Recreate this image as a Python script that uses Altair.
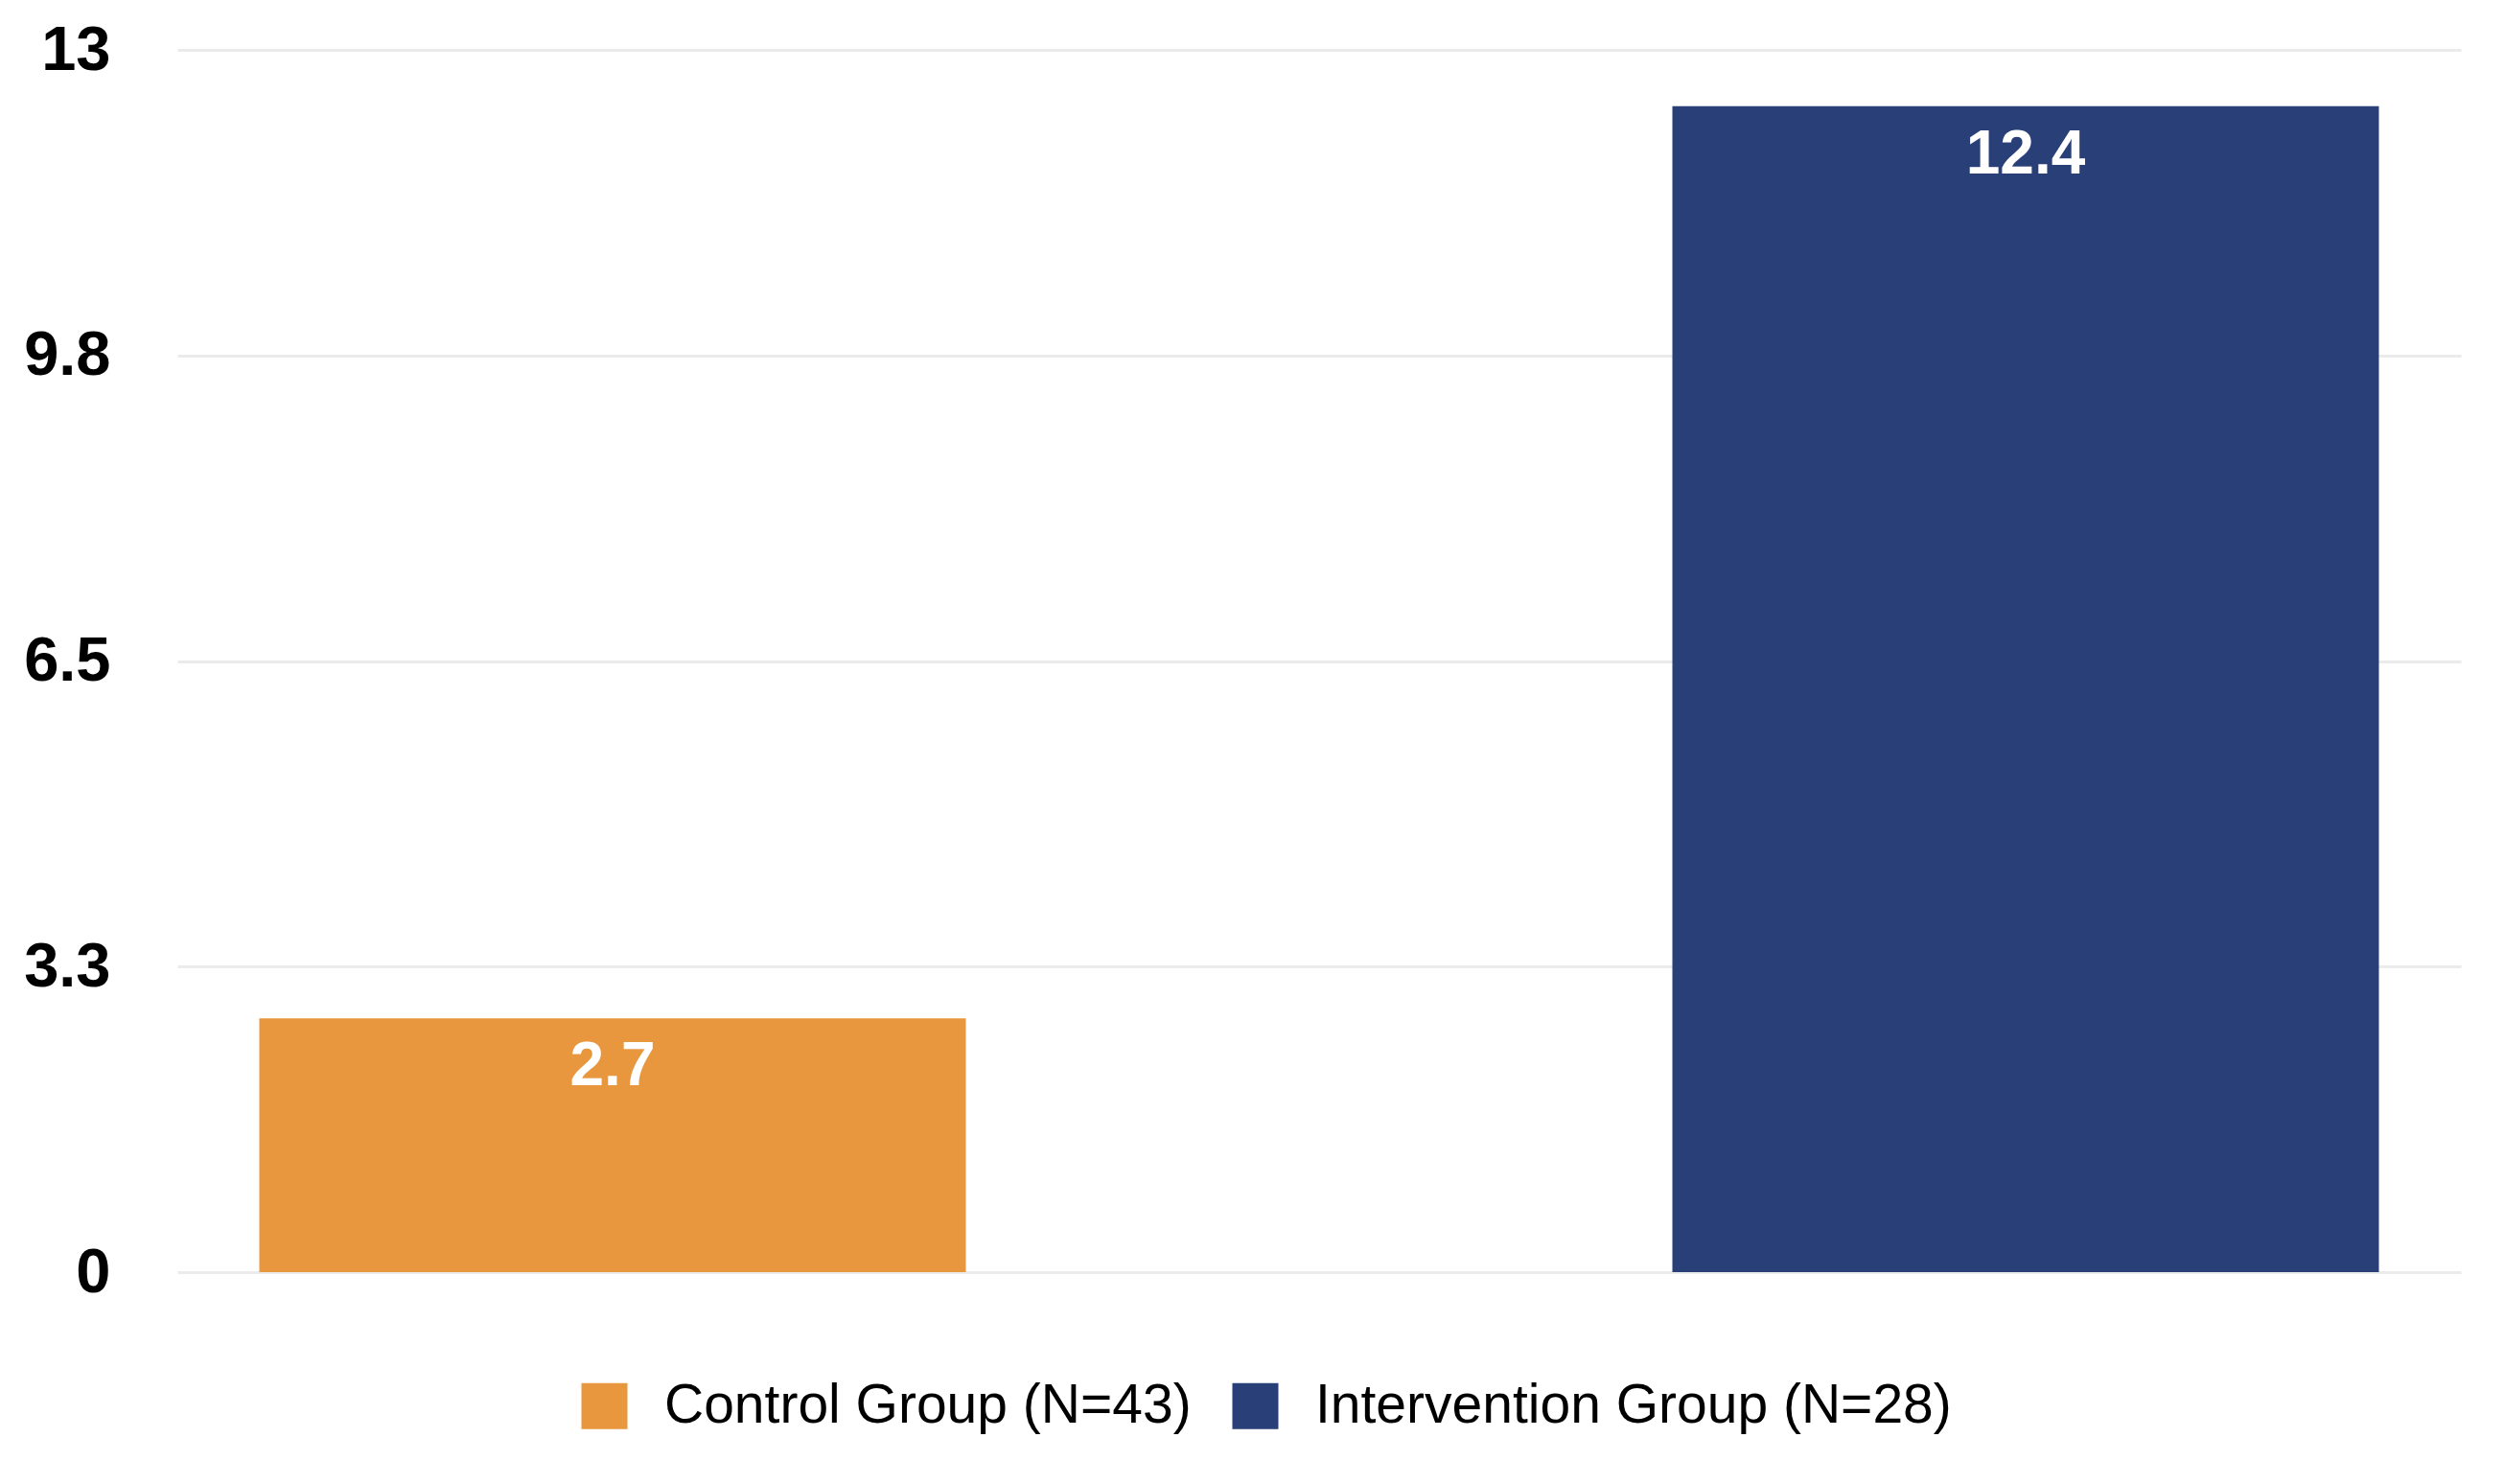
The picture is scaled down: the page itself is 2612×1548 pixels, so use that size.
import altair as alt
import pandas as pd

groups = ["Control Group (N=43)", "Intervention Group (N=28)"]
values = [2.7, 12.4]
value_labels = ["2.7", "12.4"]
colors = ["#E9973E", "#283F78"]
tick_values = [0, 3.25, 6.5, 9.75, 13]
tick_labels = ["0", "3.3", "6.5", "9.8", "13"]

df = pd.DataFrame({"group": groups, "value": values, "label": value_labels})

expr = "''"
for v, l in zip(reversed(tick_values), reversed(tick_labels)):
    expr = f"datum.value == {v} ? '{l}' : ({expr})"

x_enc = alt.X("group:N", sort=groups, axis=None,
              scale=alt.Scale(paddingInner=0.5, paddingOuter=0.058))

bars = alt.Chart(df).mark_bar().encode(
    x=x_enc,
    y=alt.Y("value:Q",
            scale=alt.Scale(domain=[0, 13], nice=False, zero=True),
            axis=alt.Axis(values=tick_values, labelExpr=expr, title=None,
                          domain=False, ticks=False, tickSize=0,
                          labelPadding=70, labelFontSize=65,
                          labelFontWeight="bold", labelColor="#000000",
                          labelFont="Liberation Sans",
                          grid=True, gridColor="#EBEBEB", gridWidth=3)),
    color=alt.Color("group:N", sort=groups,
                    scale=alt.Scale(domain=groups, range=colors),
                    legend=alt.Legend(title=None, orient="none",
                                      legendX=417, legendY=1386,
                                      direction="horizontal",
                                      symbolType="square", symbolSize=2304,
                                      symbolStrokeWidth=0,
                                      labelFontSize=57, labelColor="#000000",
                                      labelFont="Liberation Sans",
                                      labelLimit=0,
                                      labelOffset=34, columnPadding=38,
                                      padding=0)),
)

text = alt.Chart(df).mark_text(
    baseline="middle", align="center", dy=51, color="white",
    fontSize=64, fontWeight="bold", font="Liberation Sans"
).encode(
    x=alt.X("group:N", sort=groups),
    y=alt.Y("value:Q"),
    text="label:N",
)

chart = alt.layer(bars, text).properties(
    width=2382, height=1275,
    background="white",
    autosize=alt.AutoSizeParams(type="none"),
    padding={"left": 177, "top": 44, "right": 30, "bottom": 200},
).configure_view(strokeWidth=0)

chart.save("out.html", embed_options={"renderer": "svg", "actions": False})
